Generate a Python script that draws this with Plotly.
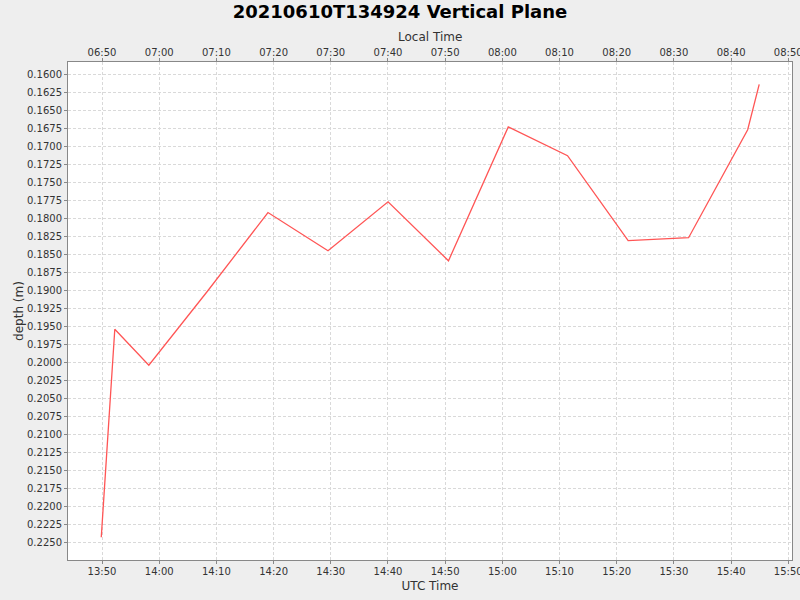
import pandas as pd
import plotly.graph_objects as go

# UTC sample times and depths
utc_times = [
    "2021-06-10 13:49:52", "2021-06-10 13:52:14", "2021-06-10 13:58:11",
    "2021-06-10 14:08:28", "2021-06-10 14:19:01", "2021-06-10 14:29:31",
    "2021-06-10 14:40:01", "2021-06-10 14:50:35", "2021-06-10 15:01:02",
    "2021-06-10 15:11:24", "2021-06-10 15:22:00", "2021-06-10 15:32:34",
    "2021-06-10 15:42:54", "2021-06-10 15:44:55",
]
depths = [
    0.2243, 0.1954, 0.2004, 0.1901, 0.1792, 0.1845, 0.1777,
    0.1859, 0.1673, 0.1713, 0.1831, 0.1827, 0.1677, 0.1614,
]
utc_offset_hours = -7  # local time = UTC - 7h

utc_range = ["2021-06-10 13:44:03", "2021-06-10 15:50:39"]
depth_range = [0.22746, 0.15829]

t = pd.to_datetime(utc_times)
t_local = t + pd.Timedelta(hours=utc_offset_hours)
r_local = pd.to_datetime(utc_range) + pd.Timedelta(hours=utc_offset_hours)

font = "DejaVu Sans"
grid = "#d9d9d9"
axcol = "#888888"

fig = go.Figure()
fig.add_trace(go.Scatter(
    x=t, y=depths, mode="lines",
    line=dict(color="#ff5555", width=1.3),
    name="depth", showlegend=False,
))
# invisible trace so the local-time axis gets drawn
fig.add_trace(go.Scatter(
    x=t_local, y=depths, mode="lines", xaxis="x2",
    line=dict(width=0), opacity=0, hoverinfo="skip", showlegend=False,
))

common = dict(
    showgrid=True, gridcolor=grid, griddash="3px,2px", gridwidth=1,
    showline=True, linecolor=axcol, linewidth=1,
    ticks="outside", ticklen=3, tickcolor=axcol,
    tickfont=dict(family=font, size=10, color="#333333"),
    zeroline=False, automargin=False, ticklabeloverflow="allow",
)

fig.update_layout(
    width=800, height=600,
    paper_bgcolor="#eeeeee", plot_bgcolor="white",
    margin=dict(l=68, r=8, t=62, b=40),
    title=dict(text="<b>20210610T134924 Vertical Plane</b>", x=0.5, xanchor="center",
               y=0.98, yanchor="middle", font=dict(family=font, size=18, color="black")),
    xaxis=dict(
        range=list(pd.to_datetime(utc_range)), tickformat="%H:%M", dtick=600000,
        tick0="2021-06-10 13:50:00", ticklabelstandoff=-1,
        title=dict(text="UTC Time", font=dict(family=font, size=12, color="#333333"), standoff=5),
        **common,
    ),
    xaxis2=dict(
        range=list(r_local), tickformat="%H:%M", dtick=600000,
        tick0="2021-06-10 06:50:00", overlaying="x", side="top",
        ticklabelstandoff=-2,
        **{**common, "showgrid": False},
    ),
    yaxis=dict(
        range=depth_range, dtick=0.0025, tick0=0.16, tickformat=".4f",
        mirror=True,
        title=dict(text="depth (m)", font=dict(family=font, size=12, color="#333333"), standoff=0),
        **common,
    ),
    annotations=[dict(
        text="Local Time", xref="paper", yref="paper", x=0.5, y=1.0502,
        xanchor="center", yanchor="middle", showarrow=False,
        font=dict(family=font, size=12, color="#333333"),
    )],
    hovermode="x unified",
)

fig.write_html(
    "out.html",
    config={"displayModeBar": False},
    post_script="document.body.style.margin='0';document.body.style.background='#eeeeee';",
)
